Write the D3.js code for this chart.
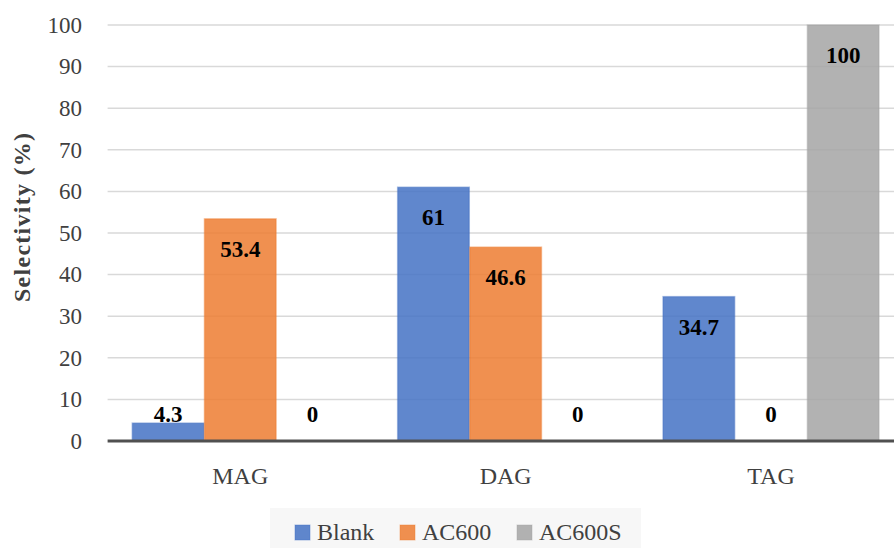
<!DOCTYPE html>
<html>
<head>
<meta charset="utf-8">
<script src="https://cdn.jsdelivr.net/npm/d3@7"></script>
<style>
  html, body { margin: 0; padding: 0; background: #fff; }
  svg { display: block; font-family: "Palatino Linotype", "Book Antiqua", Palatino, "Liberation Serif", serif; }
</style>
</head>
<body>
<svg id="chart" width="894" height="548"></svg>
<script>
// Selectivity by glyceride type for each catalyst
const categories = ["MAG", "DAG", "TAG"];
const seriesNames = ["Blank", "AC600", "AC600S"];
const blankValues = [4.3, 61, 34.7];
const ac600Values = [53.4, 46.6, 0];
const ac600sValues = [0, 0, 100];
const yTicks = [0, 10, 20, 30, 40, 50, 60, 70, 80, 90, 100];
const seriesColors = ["#4472C4", "#ED7D31", "#A5A5A5"];

const seriesValues = [blankValues, ac600Values, ac600sValues];
const rows = categories.map((c, i) => ({
  category: c,
  values: seriesNames.map((s, j) => ({ series: s, idx: j, value: seriesValues[j][i] }))
}));

const svg = d3.select("#chart");
const plotLeft = 107.6, plotRight = 903.7, plotTop = 25, plotBottom = 441;

const x = d3.scaleBand().domain(categories).range([plotLeft, plotRight]).paddingInner(0).paddingOuter(0);
const groupPad = 24.7;
const x1 = d3.scaleBand().domain(seriesNames)
  .range([groupPad, x.bandwidth() - groupPad]).paddingInner(0.008).paddingOuter(0);
const y = d3.scaleLinear().domain([0, 100]).range([plotBottom, plotTop]);

// Horizontal gridlines
svg.append("g")
  .selectAll("line")
  .data(yTicks.filter(t => t > 0))
  .join("line")
  .attr("x1", plotLeft).attr("x2", plotRight)
  .attr("y1", d => y(d)).attr("y2", d => y(d))
  .attr("stroke", "#d9d9d9").attr("stroke-width", 1.5);

// Y tick labels
const yAxis = d3.axisLeft(y).tickValues(yTicks).tickSize(0).tickPadding(0);
const gy = svg.append("g").attr("transform", `translate(${82},0)`).call(yAxis);
gy.attr("font-family", null).attr("font-size", null);
gy.select(".domain").remove();
gy.selectAll("text")
  .attr("font-size", 23)
  .attr("fill", "#404040");

// Bars
const groups = svg.append("g").selectAll("g")
  .data(rows)
  .join("g")
  .attr("transform", d => `translate(${x(d.category)},0)`);

groups.selectAll("rect")
  .data(d => d.values)
  .join("rect")
  .attr("x", d => x1(d.series))
  .attr("width", x1.bandwidth())
  .attr("y", d => y(d.value))
  .attr("height", d => y(0) - y(d.value))
  .attr("fill", d => seriesColors[d.idx])
  .attr("fill-opacity", 0.85)
  .attr("stroke", d => seriesColors[d.idx])
  .attr("stroke-opacity", 0.45)
  .attr("stroke-width", 1.5);

// Value labels, inside the bar top (or just above the baseline for short bars)
groups.selectAll("text")
  .data(d => d.values)
  .join("text")
  .attr("x", d => x1(d.series) + x1.bandwidth() / 2)
  .attr("y", d => Math.min(y(d.value) + 38, y(0) - 19.5))
  .attr("text-anchor", "middle")
  .attr("font-size", 23)
  .attr("font-weight", "bold")
  .attr("fill", "#000")
  .text(d => d3.format("~g")(d.value));

// Zero axis line
svg.append("line")
  .attr("x1", plotLeft).attr("x2", plotRight)
  .attr("y1", y(0)).attr("y2", y(0))
  .attr("stroke", "#505050").attr("stroke-width", 3);

// Category labels
const xAxis = d3.axisBottom(x).tickSize(0).tickPadding(0);
const gx = svg.append("g").attr("transform", `translate(0,${y(0)})`).call(xAxis);
gx.attr("font-family", null).attr("font-size", null);
gx.select(".domain").remove();
gx.selectAll("text")
  .attr("font-size", 24)
  .attr("fill", "#404040")
  .attr("dy", null)
  .attr("y", 43);

// Y axis title
svg.append("text")
  .attr("transform", `translate(30,${217.5}) rotate(-90)`)
  .attr("text-anchor", "middle")
  .attr("font-size", 24)
  .attr("font-weight", "bold")
  .attr("fill", "#404040")
  .attr("textLength", 169)
  .attr("lengthAdjust", "spacing")
  .text("Selectivity (%)");

// Legend
const legend = svg.append("g");
legend.append("rect")
  .attr("x", 270).attr("y", 508).attr("width", 371).attr("height", 40)
  .attr("fill", "#f7f7f7");
const legendX = [295, 400, 517];
const items = legend.selectAll("g.item")
  .data(seriesNames)
  .join("g").attr("class", "item")
  .attr("transform", (d, i) => `translate(${legendX[i]},540)`);
items.append("rect")
  .attr("x", 0).attr("y", -15).attr("width", 15).attr("height", 15)
  .attr("fill", (d, i) => seriesColors[i]).attr("fill-opacity", 0.85)
  .attr("stroke", (d, i) => seriesColors[i]).attr("stroke-opacity", 0.45);
items.append("text")
  .attr("x", 22).attr("y", 0)
  .attr("font-size", 24)
  .attr("fill", "#404040")
  .text(d => d);
</script>
</body>
</html>
